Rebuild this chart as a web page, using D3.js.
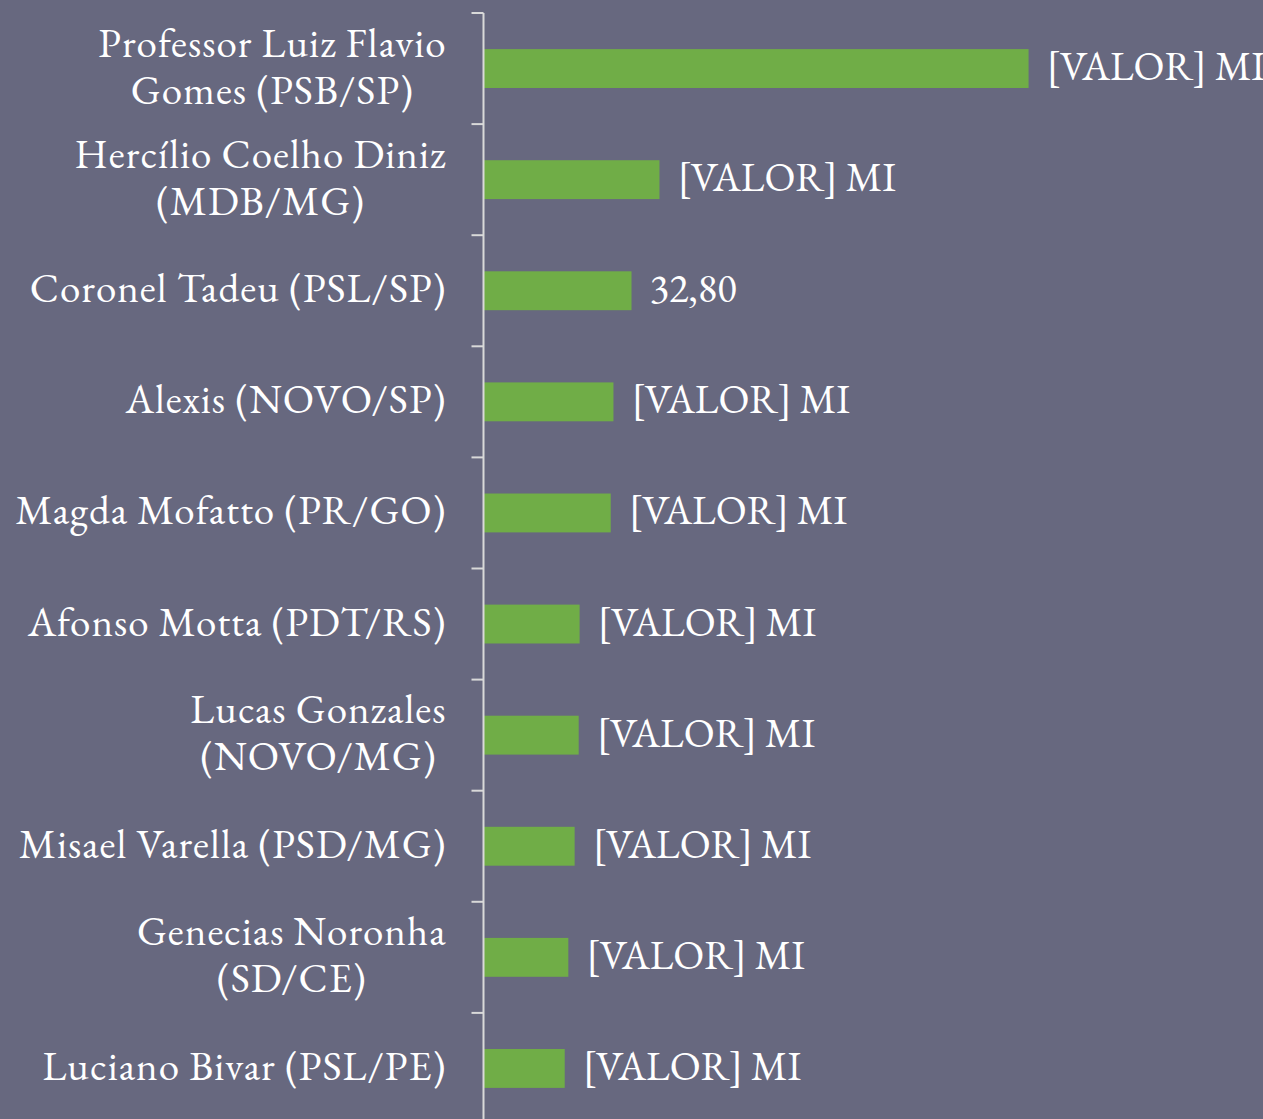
<!DOCTYPE html>
<html><head><meta charset="utf-8">
<script src="https://cdn.jsdelivr.net/npm/d3@7/dist/d3.min.js"></script>
<style>html,body{margin:0;padding:0;background:#67687f;overflow:hidden} text{font-family:'EB Garamond','Liberation Serif',serif;}</style>
</head><body>
<svg id="c" width="1263" height="1119"></svg>
<script>
const categories = [
  "Professor Luiz Flavio\nGomes (PSB/SP)",
  "Hercílio Coelho Diniz\n(MDB/MG)",
  "Coronel Tadeu (PSL/SP)",
  "Alexis (NOVO/SP)",
  "Magda Mofatto (PR/GO)",
  "Afonso Motta (PDT/RS)",
  "Lucas Gonzales\n(NOVO/MG)",
  "Misael Varella (PSD/MG)",
  "Genecias Noronha\n(SD/CE)",
  "Luciano Bivar (PSL/PE)"
];
const values = [120.8, 39.0, 32.8, 28.8, 28.2, 21.3, 21.1, 20.2, 18.8, 18.0];
const valueLabels = ["[VALOR] MI","[VALOR] MI","32,80","[VALOR] MI","[VALOR] MI","[VALOR] MI","[VALOR] MI","[VALOR] MI","[VALOR] MI","[VALOR] MI"];

const svg = d3.select("#c");
const x0 = 483.5;
const x = d3.scaleLinear().domain([0, 32.8]).range([x0, x0 + 148]);
const y = d3.scaleBand().domain(categories).range([13, 1124]).paddingInner(0.65).paddingOuter(0.325);

svg.selectAll("rect.bar").data(values).enter().append("rect")
  .attr("x", x(0)).attr("y", (d,i)=>y(categories[i]))
  .attr("width", d=>x(d)-x(0)).attr("height", y.bandwidth())
  .attr("fill", "#70ad47");

const g = svg.append("g").attr("transform", `translate(${x0},0)`);
const step = y.step();
g.append("line").attr("x1",0).attr("x2",0).attr("y1",13).attr("y2",1124).attr("stroke","#d9d9d9").attr("stroke-width",2);
g.selectAll("line.t").data(d3.range(categories.length+1)).enter().append("line")
  .attr("x1",-12).attr("x2",0).attr("y1",i=>13+i*step).attr("y2",i=>13+i*step)
  .attr("stroke","#d9d9d9").attr("stroke-width",2);

const lab = svg.append("g");
categories.forEach((c,i)=>{
  const lines = c.split("\n");
  const cy = y(c) + y.bandwidth()/2;
  const lh = 47;
  const texts = lines.map((t,j)=> lab.append("text")
    .attr("y", cy + (j - (lines.length-1)/2)*lh)
    .attr("dy", 11.5)
    .style("font-size", "41px").style("letter-spacing","1px").attr("fill","#ffffff")
    .text(t));
  const maxW = Math.max(...texts.map(t=>t.node().getComputedTextLength()));
  texts.forEach(t=>t.attr("x", 446.5 - maxW/2).attr("text-anchor","middle"));
});

svg.selectAll("text.val").data(values).enter().append("text")
  .attr("x", d=>x(d)+18).attr("y",(d,i)=>y(categories[i])+y.bandwidth()/2)
  .attr("dy", 11.5)
  .style("font-size", "40.5px").attr("fill","#ffffff")
  .text((d,i)=>valueLabels[i]);
</script>
</body></html>
